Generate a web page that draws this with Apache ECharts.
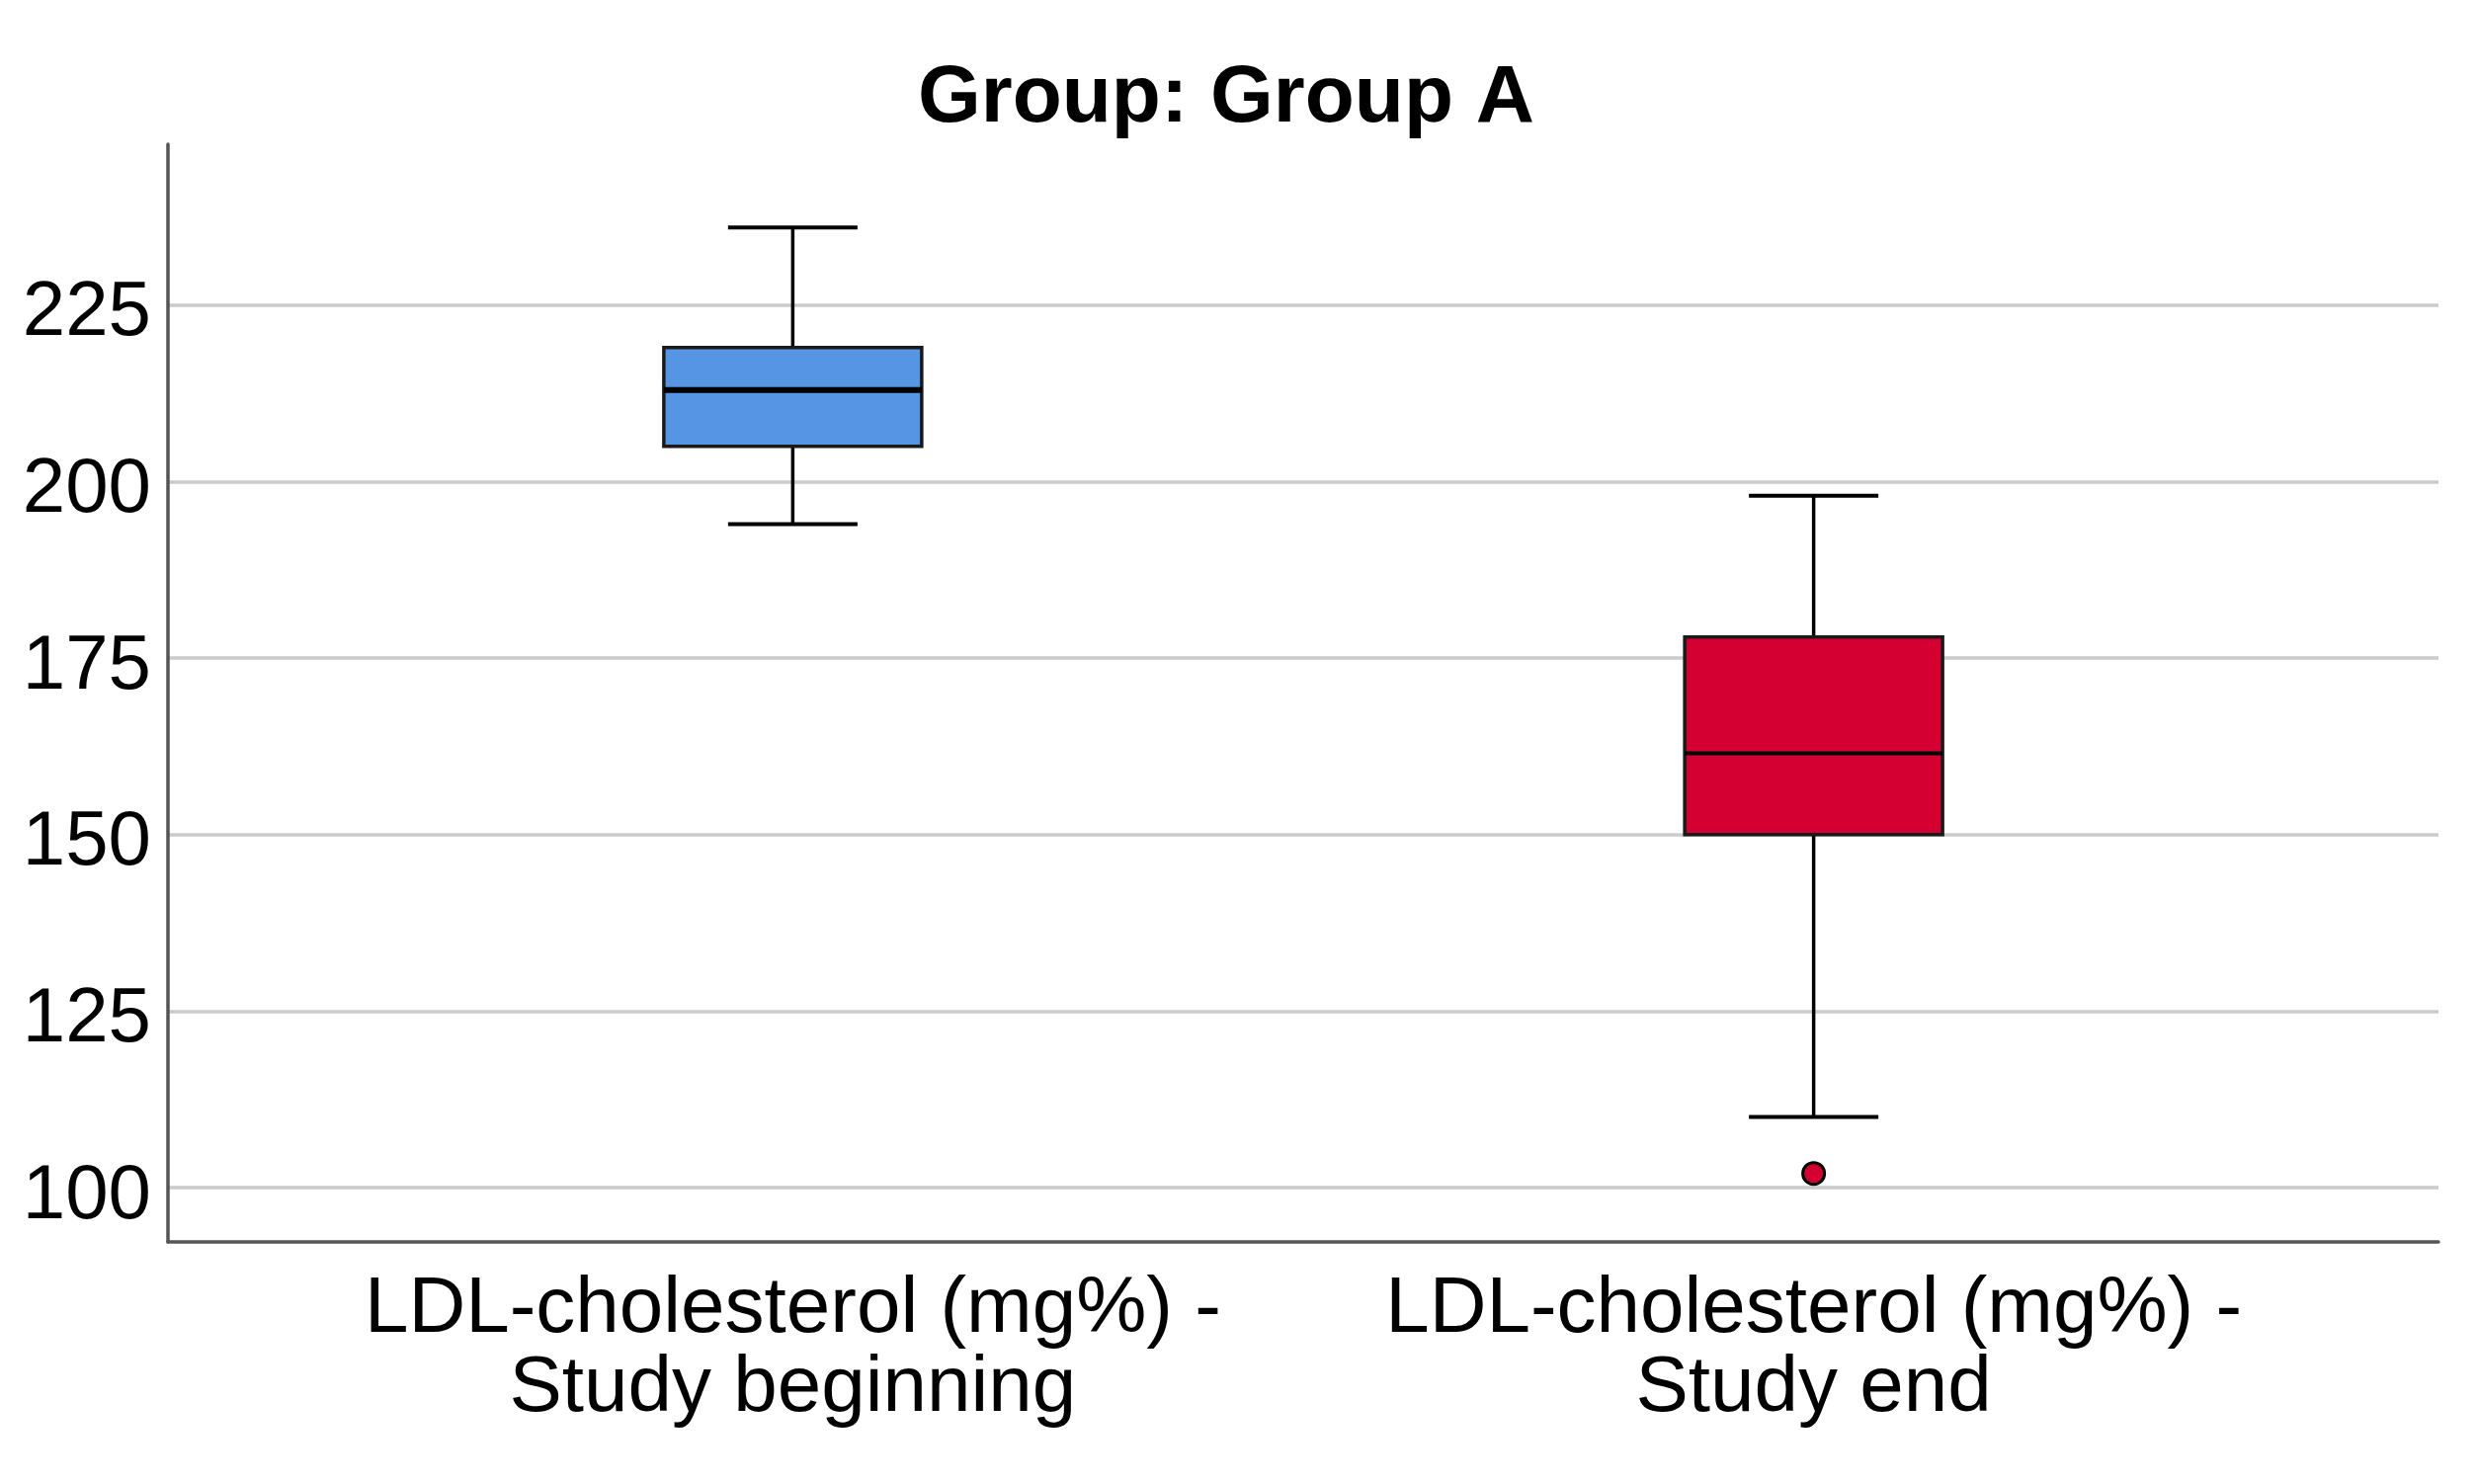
<!DOCTYPE html>
<html>
<head>
<meta charset="utf-8">
<script src="https://cdn.jsdelivr.net/npm/echarts@6/dist/echarts.min.js"></script>
<style>
  html, body { margin: 0; padding: 0; background: #ffffff; }
  #chart { width: 2506px; height: 1502px; }
</style>
</head>
<body>
<div id="chart"></div>
<script>
// ---- Data ----
const titleText = 'Group: Group A';
const categories = ['LDL-cholesterol (mg%) -\nStudy beginning', 'LDL-cholesterol (mg%) -\nStudy end'];
const whiskerLow  = [194, 110];
const q1          = [205, 150];
const median      = [213, 161.5];
const q3          = [219, 178];
const whiskerHigh = [236, 198];
const outliers    = [[1, 102]];           // [category index, value]
const yTickValues = [100, 125, 150, 175, 200, 225];

// ---- Styles ----
const boxColors = ['#5595E3', '#D50032'];
const medianWidths = [6, 4];
const FONT = 'Liberation Sans, Arial, sans-serif';

const boxData = categories.map((c, i) => [i, whiskerLow[i], q1[i], median[i], q3[i], whiskerHigh[i]]);

function renderBox(params, api) {
  const i = params.dataIndex;
  const x = api.value(0);
  const lo = api.coord([x, api.value(1)]);
  const b1 = api.coord([x, api.value(2)]);
  const md = api.coord([x, api.value(3)]);
  const b3 = api.coord([x, api.value(4)]);
  const hi = api.coord([x, api.value(5)]);
  const cx = lo[0];
  const hb = 130.5;   // half box width (px)
  const hc = 65.5;    // half cap width (px)
  const stroke = { stroke: '#000', lineWidth: 3.5, fill: null };
  return {
    type: 'group',
    children: [
      { type: 'line', shape: { x1: cx, y1: hi[1], x2: cx, y2: b3[1] }, style: stroke },
      { type: 'line', shape: { x1: cx, y1: b1[1], x2: cx, y2: lo[1] }, style: stroke },
      { type: 'line', shape: { x1: cx - hc, y1: hi[1], x2: cx + hc, y2: hi[1] }, style: { stroke: '#000', lineWidth: 4 } },
      { type: 'line', shape: { x1: cx - hc, y1: lo[1], x2: cx + hc, y2: lo[1] }, style: { stroke: '#000', lineWidth: 4 } },
      { type: 'rect', shape: { x: cx - hb, y: b3[1], width: 2 * hb, height: b1[1] - b3[1] },
        style: { fill: boxColors[i], stroke: '#1a1a1a', lineWidth: 3.5 } },
      { type: 'line', shape: { x1: cx - hb, y1: md[1], x2: cx + hb, y2: md[1] },
        style: { stroke: '#000', lineWidth: medianWidths[i] } }
    ]
  };
}

const chart = echarts.init(document.getElementById('chart'), null, { renderer: 'canvas' });
chart.setOption({
  backgroundColor: '#ffffff',
  animation: false,
  title: {
    text: titleText,
    left: 924,
    top: 54,
    textStyle: { fontFamily: FONT, fontWeight: 'bold', fontSize: 82, color: '#000' }
  },
  grid: { left: 170, right: 38, top: 146, bottom: 245, containLabel: false, outerBoundsMode: 'none' },
  xAxis: {
    type: 'value',
    min: -0.612,
    max: 1.612,
    axisLine: { show: true, onZero: false, lineStyle: { color: '#555555', width: 3.5 } },
    axisTick: { show: false, customValues: [0, 1] },
    splitLine: { show: false },
    axisLabel: {
      customValues: [0, 1],
      formatter: v => categories[Math.round(v)] || '',
      fontFamily: FONT, fontSize: 80, lineHeight: 80, color: '#000', margin: 29
    }
  },
  yAxis: {
    type: 'value',
    min: 92.3,
    max: 247.8,
    axisLine: { show: true, onZero: false, lineStyle: { color: '#555555', width: 3.5 } },
    axisTick: { show: false, customValues: yTickValues },
    splitLine: { show: true, lineStyle: { color: '#cbcbcb', width: 3.5 } },
    axisLabel: {
      customValues: yTickValues,
      fontFamily: FONT, fontSize: 78, color: '#000', margin: 17,
      verticalAlign: 'top', lineHeight: 18
    }
  },
  series: [
    {
      type: 'custom',
      renderItem: renderBox,
      data: boxData,
      encode: { x: 0, y: [1, 2, 3, 4, 5] },
      z: 3
    },
    {
      type: 'scatter',
      data: outliers,
      symbol: 'circle',
      symbolSize: 22,
      itemStyle: { color: '#D50032', borderColor: '#000', borderWidth: 3, opacity: 1 },
      z: 4
    }
  ]
});
</script>
</body>
</html>
